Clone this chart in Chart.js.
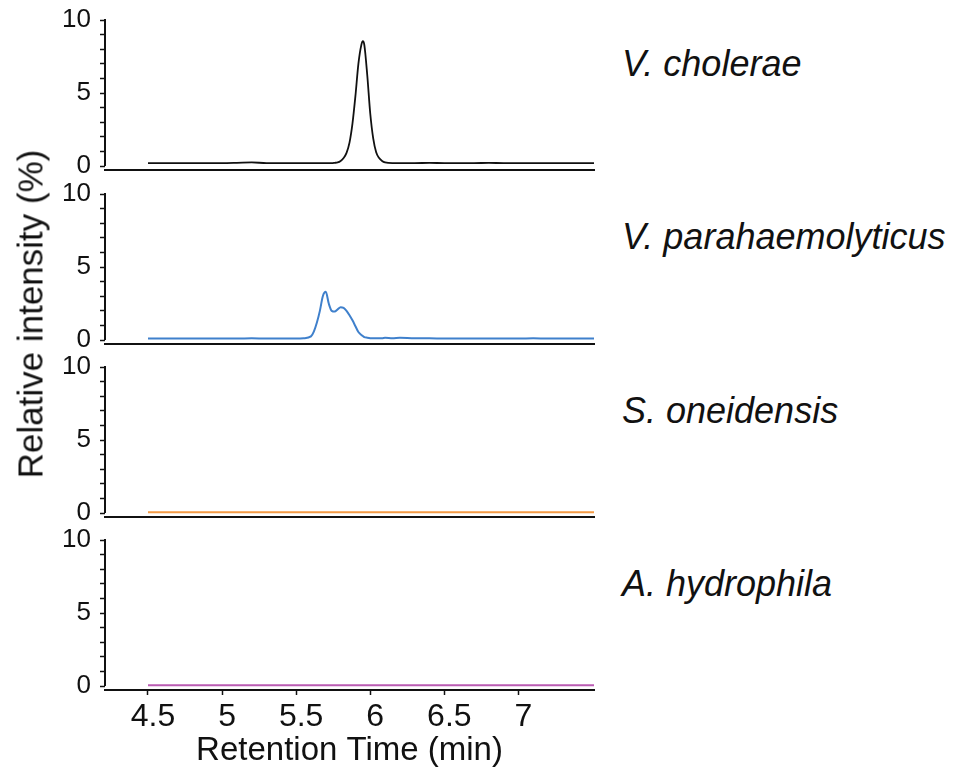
<!DOCTYPE html>
<html>
<head>
<meta charset="utf-8">
<script src="https://cdn.jsdelivr.net/npm/chart.js@4.4.0/dist/chart.umd.min.js"></script>
<style>
  body { margin: 0; background: #fff; width: 961px; height: 773px; position: relative; overflow: hidden;
         font-family: "Liberation Sans", Arial, sans-serif; color: #111; }
  canvas { position: absolute; left: 0; }
  .species { position: absolute; left: 622px; font-style: italic; font-size: 36px; line-height: 1; white-space: nowrap; }
  #ytitle { position: absolute; left: 30px; top: 314px; font-size: 35px; line-height: 1; white-space: nowrap;
            transform: translate(-50%, -50%) rotate(-90deg); }
</style>
</head>
<body>
<canvas id="p0" width="600" height="182" style="top:4px"></canvas>
<canvas id="p1" width="600" height="182" style="top:178px"></canvas>
<canvas id="p2" width="600" height="182" style="top:351px"></canvas>
<canvas id="p3" width="600" height="249" style="top:524px"></canvas>

<div class="species" style="top:46px">V. cholerae</div>
<div class="species" style="top:219px">V. parahaemolyticus</div>
<div class="species" style="top:393px">S. oneidensis</div>
<div class="species" style="top:566px">A. hydrophila</div>
<div id="ytitle">Relative intensity (%)</div>

<script>
// retention time (min)
const times = [4.5, 4.6, 4.7, 4.8, 4.9, 5.0, 5.1, 5.2, 5.3, 5.4, 5.5, 5.55, 5.6, 5.62, 5.64, 5.66, 5.68, 5.7, 5.72, 5.74,
  5.76, 5.78, 5.8, 5.82, 5.84, 5.86, 5.88, 5.9, 5.92, 5.94, 5.95, 5.96, 5.98, 6.0, 6.02, 6.04, 6.06, 6.08, 6.1, 6.15,
  6.2, 6.3, 6.4, 6.5, 6.6, 6.7, 6.8, 6.9, 7.0, 7.1, 7.2, 7.3, 7.4, 7.51];

const cholerae = [0.2, 0.2, 0.2, 0.2, 0.2, 0.2, 0.22, 0.25, 0.2, 0.2, 0.2, 0.2, 0.2, 0.2, 0.2, 0.2, 0.2, 0.2, 0.2, 0.2,
  0.22, 0.25, 0.35, 0.55, 0.9, 1.6, 2.9, 4.8, 7.0, 8.3, 8.55, 8.3, 6.2, 3.6, 1.9, 0.95, 0.55, 0.35, 0.25, 0.2,
  0.2, 0.2, 0.22, 0.2, 0.2, 0.2, 0.22, 0.2, 0.2, 0.2, 0.2, 0.2, 0.2, 0.2];

const parahaemolyticus = [0.1, 0.1, 0.1, 0.1, 0.1, 0.1, 0.1, 0.12, 0.1, 0.1, 0.1, 0.12, 0.25, 0.6, 1.2, 2.0, 3.0, 3.3, 2.5, 2.0,
  1.95, 2.1, 2.25, 2.2, 2.0, 1.7, 1.35, 0.95, 0.55, 0.35, 0.28, 0.2, 0.16, 0.13, 0.12, 0.12, 0.12, 0.12, 0.15, 0.12,
  0.15, 0.12, 0.12, 0.1, 0.1, 0.1, 0.1, 0.1, 0.1, 0.12, 0.1, 0.1, 0.1, 0.1];

const oneidensis = [0.05, 0.05, 0.05, 0.05, 0.05, 0.05, 0.05, 0.05, 0.05, 0.05, 0.05, 0.05, 0.05, 0.05, 0.05, 0.05, 0.05, 0.05, 0.05, 0.05,
  0.05, 0.05, 0.05, 0.05, 0.05, 0.05, 0.05, 0.05, 0.05, 0.05, 0.05, 0.05, 0.05, 0.05, 0.05, 0.05, 0.05, 0.05, 0.05, 0.05,
  0.05, 0.05, 0.05, 0.05, 0.05, 0.05, 0.05, 0.05, 0.05, 0.05, 0.05, 0.05, 0.05, 0.05];

const hydrophila = [0.05, 0.05, 0.05, 0.06, 0.05, 0.05, 0.06, 0.05, 0.05, 0.05, 0.05, 0.05, 0.05, 0.05, 0.05, 0.05, 0.05, 0.05, 0.05, 0.05,
  0.05, 0.05, 0.05, 0.05, 0.05, 0.05, 0.05, 0.05, 0.05, 0.05, 0.05, 0.05, 0.05, 0.05, 0.05, 0.05, 0.05, 0.05, 0.05, 0.05,
  0.05, 0.05, 0.05, 0.05, 0.05, 0.05, 0.05, 0.05, 0.05, 0.05, 0.05, 0.05, 0.06, 0.05];

const xTicks = [4.5, 5, 5.5, 6, 6.5, 7];
const yTicks = [0, 1, 2, 3, 4, 5, 6, 7, 8, 9, 10];
const yLabels = [0, 5, 10];

const panels = [
  { id: 'p0', values: cholerae, color: '#111111' },
  { id: 'p1', values: parahaemolyticus, color: '#3f80cc' },
  { id: 'p2', values: oneidensis, color: '#f39a45' },
  { id: 'p3', values: hydrophila, color: '#bb5cb3' }
];

const font = '"Liberation Sans", Arial, sans-serif';

// y axis line only from 0 to 10, like the original
const yLinePlugin = {
  id: 'yLine',
  afterDraw(chart) {
    const y = chart.scales.y, ctx = chart.ctx;
    ctx.save();
    ctx.strokeStyle = '#111';
    ctx.lineWidth = 2;
    ctx.beginPath();
    ctx.moveTo(chart.chartArea.left, y.getPixelForValue(10) - 1);
    ctx.lineTo(chart.chartArea.left, y.getPixelForValue(0));
    ctx.stroke();
    ctx.restore();
  }
};

panels.forEach((p, i) => {
  const last = i === panels.length - 1;
  new Chart(document.getElementById(p.id), {
    type: 'line',
    data: {
      datasets: [{
        data: times.map((t, k) => ({ x: t, y: p.values[k] })),
        borderColor: p.color,
        borderWidth: i === 0 ? 1.8 : 2,
        pointRadius: 0,
        cubicInterpolationMode: 'monotone',
        fill: false
      }]
    },
    plugins: [yLinePlugin],
    options: {
      responsive: false,
      animation: false,
      layout: { padding: { top: 16, right: 6, left: 0, bottom: last ? 0 : 16 } },
      plugins: { legend: { display: false }, tooltip: { enabled: false } },
      scales: {
        x: {
          type: 'linear',
          min: 4.21,
          max: 7.51,
          afterBuildTicks: s => { s.ticks = xTicks.map(v => ({ value: v })); },
          afterFit: s => { s.height = last ? 83 : 0; s.paddingLeft = 0; s.paddingRight = 0; },
          border: { display: true, color: '#111', width: 2 },
          grid: { drawOnChartArea: false, drawTicks: last, tickLength: 5, tickColor: '#111', tickWidth: 1.5 },
          ticks: {
            display: last,
            autoSkip: false,
            maxRotation: 0,
            color: '#111',
            padding: 3,
            labelOffset: 5,
            font: { family: font, size: 32 },
            callback: v => String(v)
          },
          title: {
            display: last,
            text: 'Retention Time (min)',
            color: '#111',
            padding: { top: 0, bottom: 2 },
            font: { family: font, size: 33 }
          }
        },
        y: {
          min: -0.27,
          max: 10,
          afterBuildTicks: s => { s.ticks = yTicks.map(v => ({ value: v })); },
          afterFit: s => { s.width = 105; s.paddingTop = 0; s.paddingBottom = 0; },
          border: { display: false },
          grid: { drawOnChartArea: false, drawTicks: true, tickLength: 5, tickColor: '#111', tickWidth: 1.5 },
          ticks: {
            autoSkip: false,
            color: '#111',
            padding: 9,
            font: { family: font, size: 26 },
            callback: v => yLabels.includes(v) ? String(v) : ''
          }
        }
      }
    }
  });
});
</script>
</body>
</html>
